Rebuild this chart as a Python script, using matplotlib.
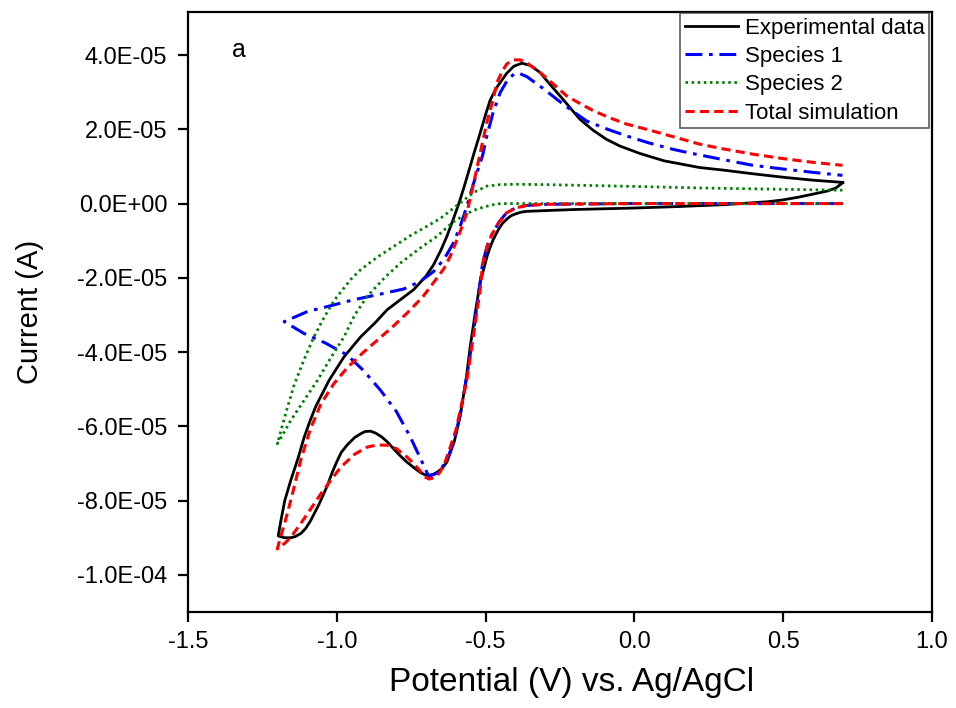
import matplotlib
matplotlib.use("Agg")
import matplotlib.pyplot as plt

plt.rcParams['font.family'] = ['Liberation Sans', 'DejaVu Sans']

# Experimental data: potential (V) and current (1e-5 A), one closed scan
exp_v = [0.700, 0.677, 0.650, 0.621, 0.58, 0.55, 0.50, 0.45, 0.30, 0.15, 0.0, -0.2, -0.30,
         -0.362, -0.38, -0.40, -0.415, -0.429, -0.443, -0.455, -0.465, -0.475, -0.485,
         -0.495, -0.505, -0.518, -0.535, -0.552, -0.565, -0.585, -0.605, -0.630, -0.645,
         -0.660, -0.675, -0.691, -0.705, -0.720, -0.743, -0.765, -0.786, -0.81, -0.83,
         -0.85, -0.87, -0.887, -0.905, -0.92, -0.94, -0.965, -0.985, -1.00, -1.016,
         -1.032, -1.06, -1.088, -1.105, -1.12, -1.14, -1.155, -1.175, -1.19, -1.197,
         -1.188, -1.175, -1.155, -1.13, -1.11, -1.09, -1.07, -1.026, -0.976, -0.920, -0.87,
         -0.831, -0.78, -0.742, -0.70, -0.675, -0.65, -0.63, -0.61, -0.59, -0.575,
         -0.563, -0.54, -0.518, -0.50, -0.485, -0.465, -0.451, -0.43, -0.405, -0.378,
         -0.35, -0.317, -0.285, -0.25, -0.215, -0.183, -0.14, -0.094, -0.049, 0.018,
         0.1, 0.219, 0.3, 0.4, 0.51, 0.6, 0.7]
exp_i = [0.56, 0.42, 0.34, 0.29, 0.22, 0.17, 0.10, 0.05, -0.03, -0.08, -0.12, -0.16, -0.19,
         -0.21, -0.23, -0.28, -0.33, -0.42, -0.53, -0.67, -0.82, -0.98, -1.18,
         -1.42, -1.72, -2.1, -2.95, -3.86, -4.7, -5.7, -6.4, -6.96, -7.12,
         -7.22, -7.29, -7.32, -7.30, -7.24, -7.10, -6.96, -6.80, -6.6, -6.42,
         -6.28, -6.18, -6.13, -6.14, -6.2, -6.3, -6.5, -6.7, -6.95, -7.25,
         -7.6, -8.1, -8.54, -8.75, -8.88, -8.97, -9.0, -9.0, -8.97, -8.95,
         -8.54, -8.0, -7.46, -6.85, -6.3, -5.85, -5.45, -4.76, -4.13, -3.59, -3.2,
         -2.86, -2.55, -2.32, -1.95, -1.65, -1.25, -0.88, -0.45, 0.0, 0.38,
         0.7, 1.33, 1.91, 2.4, 2.78, 3.1, 3.26, 3.5, 3.7, 3.78,
         3.72, 3.53, 3.22, 2.9, 2.57, 2.27, 1.98, 1.73, 1.55, 1.35,
         1.15, 0.97, 0.9, 0.8, 0.7, 0.63, 0.57]

# Species 1 simulation
s1_v = [0.70, 0.3, 0.0, -0.3, -0.362, -0.40, -0.43, -0.455, -0.48, -0.495, -0.51,
        -0.518, -0.53, -0.54, -0.56, -0.585, -0.605, -0.63, -0.66, -0.691,
        -0.72, -0.753, -0.80, -0.853, -0.91, -0.965, -1.04, -1.11, -1.177,
        -1.099, -1.02, -0.943, -0.86, -0.775, -0.72, -0.675, -0.64, -0.608, -0.585,
        -0.563, -0.54, -0.529, -0.51, -0.496, -0.475, -0.451, -0.425, -0.401, -0.385,
        -0.362, -0.31, -0.261, -0.21, -0.16, -0.09, -0.026, 0.05, 0.13, 0.175,
        0.3, 0.398, 0.5, 0.6, 0.699]
s1_i = [0.0, 0.0, 0.0, -0.02, -0.05, -0.12, -0.25, -0.5, -0.85, -1.15, -1.6,
        -2.1, -2.8, -3.41, -4.5, -5.66, -6.35, -6.92, -7.25, -7.35,
        -6.85, -6.29, -5.6, -5.03, -4.5, -4.08, -3.75, -3.5, -3.18,
        -2.91, -2.75, -2.59, -2.45, -2.3, -2.1, -1.83, -1.5, -1.06, -0.6,
        -0.07, 0.56, 0.83, 1.3, 1.82, 2.45, 2.99, 3.35, 3.51, 3.5,
        3.42, 3.12, 2.81, 2.5, 2.22, 2.0, 1.82, 1.63, 1.46, 1.38,
        1.18, 1.03, 0.93, 0.84, 0.76]

# Species 2 simulation
s2_v = [0.70, 0.0, -0.3, -0.45, -0.474, -0.5, -0.53, -0.563, -0.61, -0.663, -0.72,
        -0.786, -0.84, -0.898, -0.94, -0.976, -1.02, -1.065, -1.11, -1.155, -1.18, -1.2,
        -1.17, -1.144, -1.11, -1.077, -1.045, -1.01, -0.954, -0.92, -0.86, -0.808,
        -0.75, -0.697, -0.652, -0.585, -0.54, -0.496, -0.451, -0.4, -0.3, -0.05,
        0.219, 0.45, 0.699]
s2_i = [0.0, 0.0, 0.0, 0.0, -0.03, -0.08, -0.15, -0.27, -0.5, -0.88, -1.2,
        -1.6, -2.0, -2.5, -3.0, -3.59, -4.15, -4.76, -5.3, -5.84, -6.2, -6.47,
        -5.6, -4.9, -4.2, -3.59, -3.1, -2.62, -2.05, -1.78, -1.42, -1.15,
        -0.85, -0.61, -0.4, 0.02, 0.3, 0.47, 0.51, 0.52, 0.51, 0.47,
        0.42, 0.39, 0.36]

# Total simulation
tot_v = [0.70, 0.0, -0.3, -0.362, -0.40, -0.43, -0.455, -0.48, -0.495, -0.51, -0.518,
         -0.54, -0.563, -0.60, -0.619, -0.64, -0.655, -0.67, -0.69, -0.705, -0.72,
         -0.742, -0.764, -0.80, -0.831, -0.865, -0.898, -0.94, -0.987, -1.02, -1.054,
         -1.09, -1.12, -1.155, -1.175, -1.2,
         -1.19, -1.175, -1.16, -1.144, -1.121, -1.09, -1.054, -1.01, -0.965, -0.91, -0.864,
         -0.81, -0.764, -0.71, -0.663, -0.64, -0.619, -0.59, -0.563, -0.54, -0.518,
         -0.496, -0.475, -0.462, -0.445, -0.429, -0.405, -0.384, -0.36, -0.317, -0.27,
         -0.228, -0.18, -0.138, -0.08, -0.026, 0.05, 0.108, 0.219, 0.3, 0.398,
         0.5, 0.6, 0.699]
tot_i = [0.0, 0.0, -0.02, -0.05, -0.12, -0.25, -0.5, -0.85, -1.15, -1.6, -2.3,
         -3.5, -4.76, -6.1, -6.56, -7.05, -7.25, -7.37, -7.42, -7.36, -7.2,
         -7.0, -6.83, -6.6, -6.51, -6.5, -6.56, -6.75, -7.1, -7.45, -7.82,
         -8.25, -8.6, -8.99, -9.15, -9.3,
         -9.0, -8.6, -8.15, -7.65, -6.9, -6.1, -5.4, -4.85, -4.42, -4.0, -3.68,
         -3.3, -2.95, -2.5, -2.0, -1.75, -1.42, -0.85, -0.25, 0.56, 1.37,
         2.18, 2.8, 3.26, 3.55, 3.76, 3.87, 3.87, 3.78, 3.53, 3.2,
         2.9, 2.68, 2.5, 2.3, 2.14, 1.98, 1.85, 1.6, 1.47, 1.33,
         1.21, 1.11, 1.03]

y_ticks = [-1.0e-4, -8.0e-5, -6.0e-5, -4.0e-5, -2.0e-5, 0.0, 2.0e-5, 4.0e-5]
y_tick_labels = ['-1.0E-04', '-8.0E-05', '-6.0E-05', '-4.0E-05', '-2.0E-05',
                 '0.0E+00', '2.0E-05', '4.0E-05']
x_ticks = [-1.5, -1.0, -0.5, 0.0, 0.5, 1.0]
x_tick_labels = ['-1.5', '-1.0', '-0.5', '0.0', '0.5', '1.0']

scale = 1e-5

fig = plt.figure(figsize=(9.56, 7.08), dpi=100)
ax = fig.add_axes([0.1967, 0.1356, 0.7782, 0.8475])

ax.plot(exp_v, [v * scale for v in exp_i], color='black', lw=2.0, label='Experimental data',
        solid_joinstyle='round')
ax.plot(s1_v, [v * scale for v in s1_i], color='#0000ff', lw=2.2,
        linestyle=(0, (5.5, 2.2, 1.2, 2.2)), label='Species 1')
ax.plot(s2_v, [v * scale for v in s2_i], color='#008000', lw=2.0,
        linestyle=(0, (0.9, 1.3)), label='Species 2')
ax.plot(tot_v, [v * scale for v in tot_i], color='#ff0000', lw=2.2,
        linestyle=(0, (3.0, 1.7)), label='Total simulation')

ax.set_xlim(-1.5, 1.0)
ax.set_ylim(-1.1e-4, 5.16e-5)
ax.set_xticks(x_ticks)
ax.set_xticklabels(x_tick_labels)
ax.set_yticks(y_ticks)
ax.set_yticklabels(y_tick_labels)

for s in ax.spines.values():
    s.set_linewidth(1.6)
ax.tick_params(axis='both', which='both', direction='out', length=7, width=1.6,
               labelsize=17, top=False, right=False)
ax.tick_params(axis='y', pad=8)
ax.tick_params(axis='x', pad=7)

ax.set_xlabel('Potential (V) vs. Ag/AgCl', fontsize=24, labelpad=10)
ax.xaxis.label.set_x(0.516)
ax.set_ylabel('Current (A)', fontsize=21, labelpad=24)

ax.text(0.059, 0.937, 'a', transform=ax.transAxes, fontsize=18, va='center', ha='left')

leg = ax.legend(loc='upper right', bbox_to_anchor=(0.996, 0.998), borderaxespad=0,
                fontsize=16, frameon=True, fancybox=False, handlelength=2.4,
                handletextpad=0.3, labelspacing=0.33, borderpad=0.2)
leg.get_frame().set_edgecolor('#333333')
leg.get_frame().set_linewidth(1.2)

fig.savefig('out.png', dpi=100)
